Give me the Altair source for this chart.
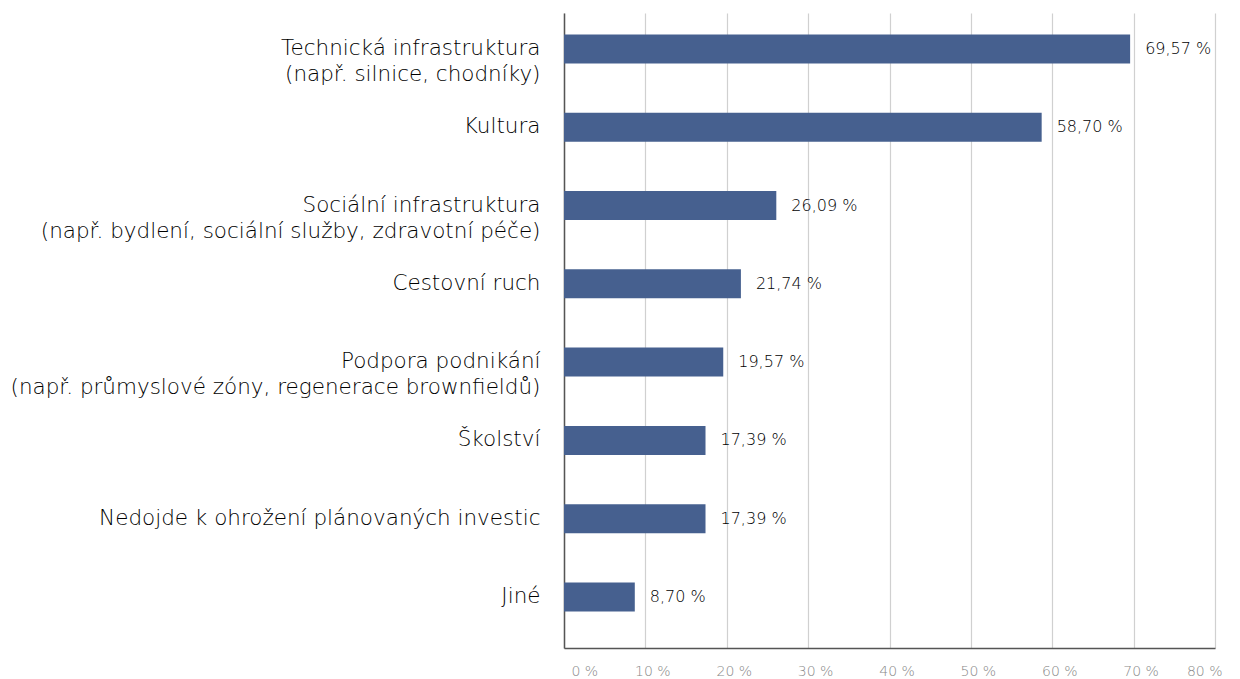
import altair as alt
import pandas as pd

categories = [
    "Technická infrastruktura|(např. silnice, chodníky)",
    "Kultura",
    "Sociální infrastruktura|(např. bydlení, sociální služby, zdravotní péče)",
    "Cestovní ruch",
    "Podpora podnikání|(např. průmyslové zóny, regenerace brownfieldů)",
    "Školství",
    "Nedojde k ohrožení plánovaných investic",
    "Jiné",
]
values = [69.57, 58.70, 26.09, 21.74, 19.57, 17.39, 17.39, 8.70]
x_ticks = [0, 10, 20, 30, 40, 50, 60, 70, 80]

df = pd.DataFrame({"cat": categories, "value": values})
FONT = "DejaVu Sans"

base = alt.Chart(df).encode(
    y=alt.Y("cat:N", sort=categories, title=None,
            scale=alt.Scale(paddingInner=0.63, paddingOuter=0.37, align=0.37),
            axis=alt.Axis(labelExpr="split(datum.label, '|')", labelFontSize=21.5,
                          labelFontWeight=200,
                          labelLineHeight=26, labelColor="#000", labelFont=FONT,
                          labelPadding=24, ticks=False, domainColor="#555",
                          domainWidth=1.5, labelLimit=600, labelBaseline="middle")),
    x=alt.X("value:Q", title=None,
            scale=alt.Scale(domain=[0, 80], nice=False),
            axis=alt.Axis(values=x_ticks, labelExpr="datum.value + ' %'",
                          labelColor="#888", labelFontSize=14, labelFont=FONT,
                          labelFontWeight=200, labelOffset=7,
                          labelPadding=16, ticks=False, domainColor="#555",
                          domainWidth=1.5, grid=True, gridColor="#d0d0d0",
                          gridWidth=1.2)),
)

bars = base.mark_bar(color="#46608F", size=29)
text = base.mark_text(align="left", dx=15, fontSize=16, font=FONT, fontWeight=200,
                      color="#000").encode(
    text=alt.Text("lbl:N")
).transform_calculate(lbl="replace(format(datum.value, '.2f'), '.', ',') + ' %'")

chart = (bars + text).properties(
    width=651, height=635,
    autosize=alt.AutoSizeParams(type="none"),
    padding={"left": 556, "top": 5, "right": 10, "bottom": 40},
).configure_view(stroke=None).configure_axisY(grid=False)

chart.save("out.html", embed_options={"renderer": "svg", "actions": False})
